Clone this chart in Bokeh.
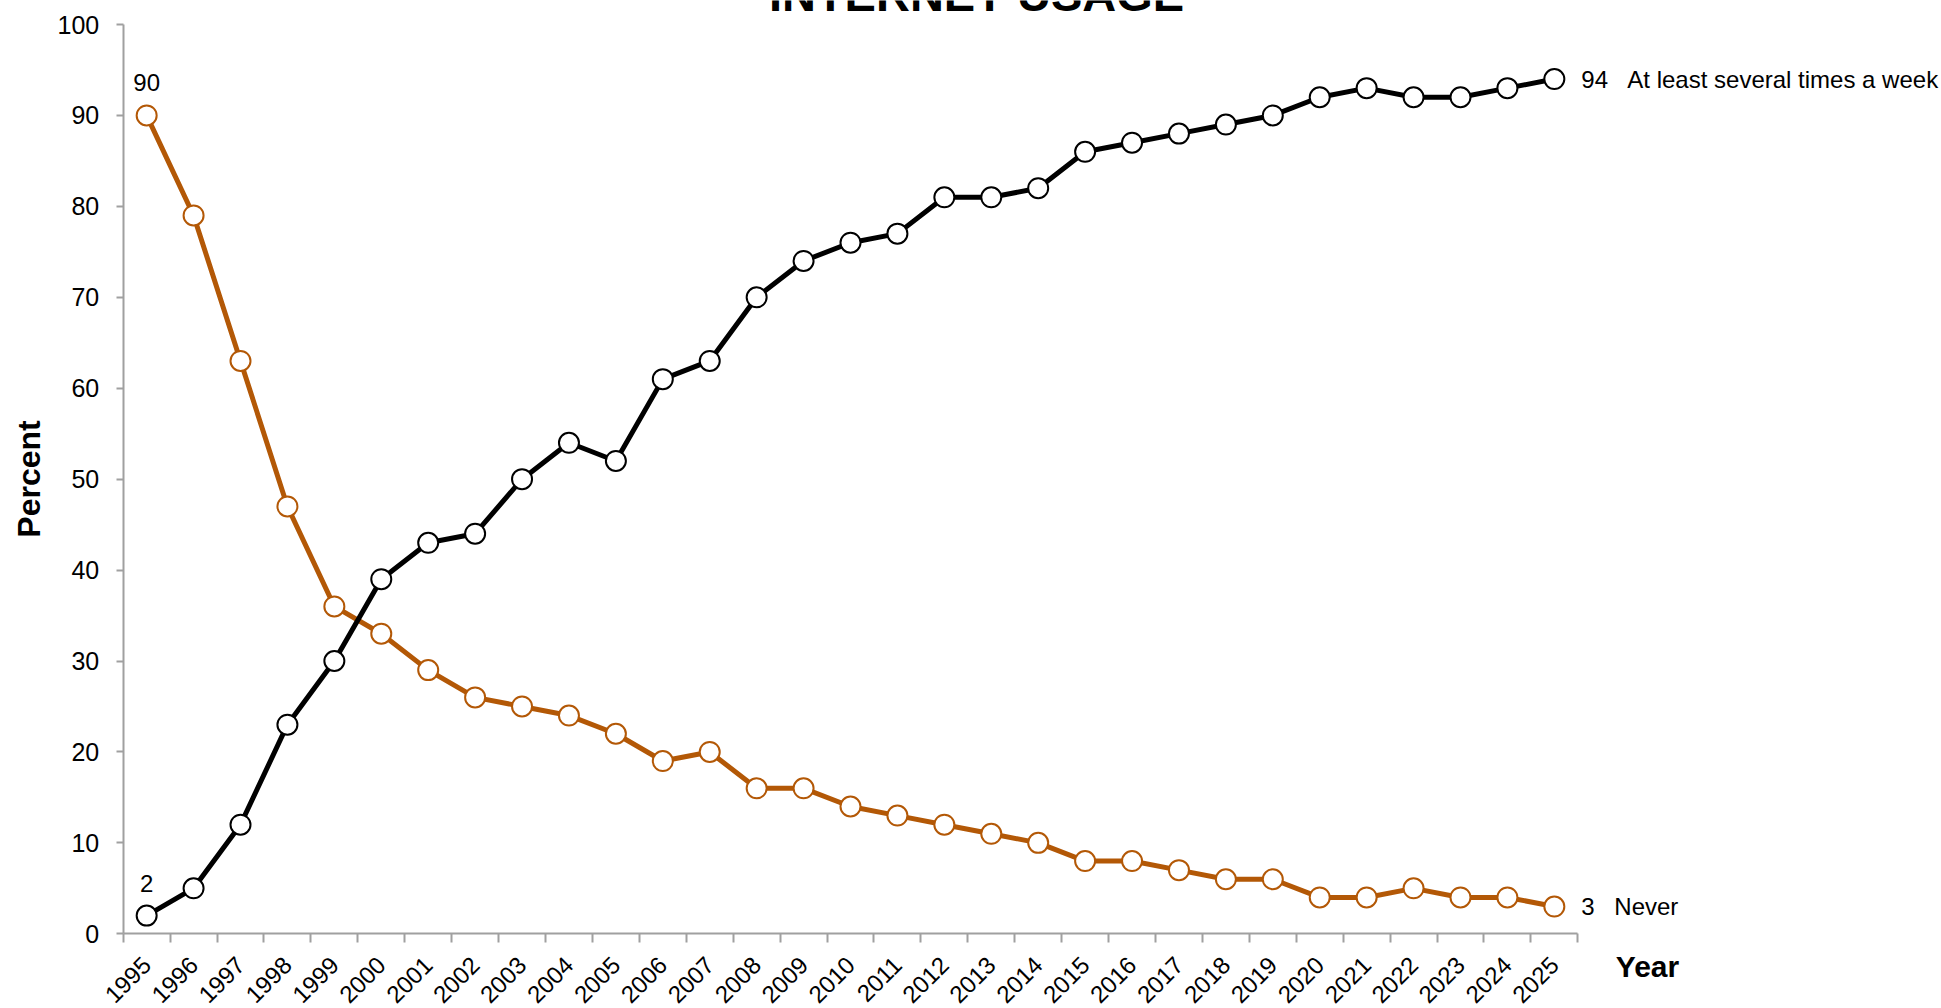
from bokeh.plotting import figure
from bokeh.models import Range1d, FixedTicker, Label, ColumnDataSource
from bokeh.embed import file_html
from bokeh.resources import INLINE
import math

years = list(range(1995, 2026))
weekly = [2, 5, 12, 23, 30, 39, 43, 44, 50, 54, 52, 61, 63, 70, 74, 76, 77, 81, 81, 82,
          86, 87, 88, 89, 90, 92, 93, 92, 92, 93, 94]
never = [90, 79, 63, 47, 36, 33, 29, 26, 25, 24, 22, 19, 20, 16, 16, 14, 13, 12, 11, 10,
         8, 8, 7, 6, 6, 4, 4, 5, 4, 4, 3]
series_names = ["At least several times a week", "Never"]
y_ticks = list(range(0, 101, 10))
title_text = "INTERNET USAGE"
y_title = "Percent"
x_title = "Year"

FONT = "Liberation Sans"
ORANGE = "#B35806"
AXIS_GRAY = "#A0A0A0"

# layout (pixels): the frame covers the whole canvas, axes sit at fixed locations
W, H = 1941, 1008
AX_LEFT, AX_ZERO_Y = 122.7, 933.3          # pixel position of x=1994.5 and y=0
PX_PER_YEAR = (1577.3 - 122.7) / 31
PX_PER_PCT = (933.3 - 24.0) / 100

x0 = years[0] - 0.5
xs = x0 - AX_LEFT / PX_PER_YEAR
ys = -(H - AX_ZERO_Y) / PX_PER_PCT
p = figure(width=W, height=H, output_backend="svg", toolbar_location=None,
           x_range=Range1d(xs, xs + W / PX_PER_YEAR),
           y_range=Range1d(ys, ys + H / PX_PER_PCT),
           min_border_left=0, min_border_right=0, min_border_top=0, min_border_bottom=0)
p.outline_line_color = None
p.grid.grid_line_color = None
p.background_fill_color = "white"
p.border_fill_color = "white"

src = ColumnDataSource(dict(x=years, w=weekly, n=never))
p.line("x", "n", source=src, line_color=ORANGE, line_width=5)
p.scatter("x", "n", source=src, size=20, fill_color="white", line_color=ORANGE, line_width=2)
p.line("x", "w", source=src, line_color="black", line_width=5)
p.scatter("x", "w", source=src, size=20, fill_color="white", line_color="black", line_width=2)

# x axis
xa = p.xaxis[0]
xa.fixed_location = 0
xa.bounds = (years[0] - 0.5, years[-1] + 0.5)
xa.ticker = FixedTicker(ticks=years, minor_ticks=[y - 0.5 for y in years] + [years[-1] + 0.5])
xa.major_label_overrides = {y: str(y) for y in years}
xa.major_label_orientation = math.pi / 4
xa.major_tick_out = 0
xa.major_tick_in = 0
xa.minor_tick_out = 9
xa.minor_tick_in = 0
xa.minor_tick_line_color = AXIS_GRAY
xa.minor_tick_line_width = 2
xa.axis_line_color = AXIS_GRAY
xa.axis_line_width = 2
xa.major_label_text_font = FONT
xa.major_label_text_font_size = "24px"
xa.major_label_text_color = "black"
xa.major_label_standoff = 18

# y axis
ya = p.yaxis[0]
ya.fixed_location = years[0] - 0.5
ya.bounds = (0, 100)
ya.ticker = FixedTicker(ticks=y_ticks)
ya.major_tick_out = 7
ya.major_tick_in = 0
ya.minor_tick_line_color = None
ya.major_tick_line_color = AXIS_GRAY
ya.major_tick_line_width = 2
ya.axis_line_color = AXIS_GRAY
ya.axis_line_width = 2
ya.major_label_text_font = FONT
ya.major_label_text_font_size = "25px"
ya.major_label_text_color = "black"
ya.major_label_standoff = 17

# axis titles
p.add_layout(Label(x=28.5, y=H - 478.5, x_units="screen", y_units="screen", text=y_title,
                   angle=math.pi / 2, text_font=FONT, text_font_style="bold",
                   text_font_size="32px", text_align="center", text_baseline="middle",
                   text_color="black"))
p.add_layout(Label(x=years[-1] + 0.5, y=0, text=x_title, x_offset=38, y_offset=-49,
                   text_font=FONT, text_font_style="bold", text_font_size="30px",
                   text_align="left", text_baseline="bottom", text_color="black"))

# start labels
for v in (weekly[0], never[0]):
    p.add_layout(Label(x=years[0], y=v, text=str(v), y_offset=24, text_font=FONT,
                       text_font_size="24px", text_align="center", text_baseline="bottom",
                       text_color="black"))

# end labels
for v, name, off in ((weekly[-1], series_names[0], 73), (never[-1], series_names[1], 60)):
    p.add_layout(Label(x=years[-1], y=v, text=str(v), x_offset=27, text_font=FONT,
                       text_font_size="24px", text_align="left", text_baseline="middle",
                       text_color="black"))
    p.add_layout(Label(x=years[-1], y=v, text=name, x_offset=off, text_font=FONT,
                       text_font_size="24px", text_align="left", text_baseline="middle",
                       text_color="black"))

# title (cut at the top edge, as in the reference)
p.add_layout(Label(x=976, y=H - 20, x_units="screen", y_units="screen",
                   text=title_text, text_font=FONT, text_font_style="bold",
                   text_font_size="47px", text_align="center", text_baseline="bottom",
                   text_color="black"))

open("out.html", "w").write(file_html(p, INLINE))
